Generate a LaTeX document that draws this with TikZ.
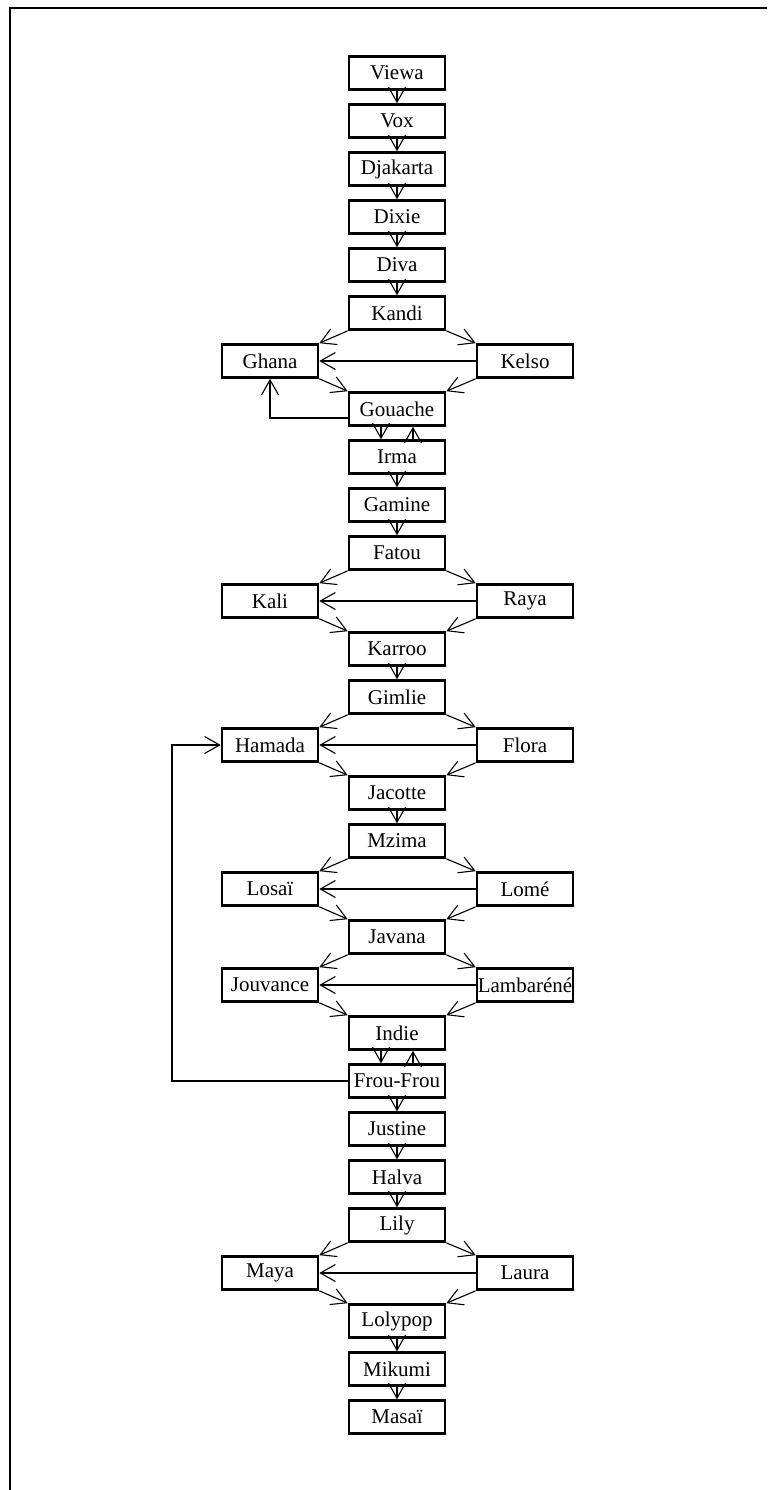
\documentclass[tikz,border=0pt]{standalone}
\usepackage{fontspec}
\setmainfont{Liberation Serif}
\usetikzlibrary{arrows.meta}
\tikzset{
  tag/.style={draw,line width=1.3pt,minimum width=48pt,minimum height=16.5pt,inner sep=0pt,font=\fontsize{10.5}{12}\selectfont},
  lead/.style={->,line width=0.55pt}
}

\begin{document}
\begin{tikzpicture}[x=0.5pt,y=-0.5pt,>={Straight Barb[length=7.5pt,width=8.5pt]}]
\useasboundingbox (0,0) rectangle (767,1490);
% the frame
\draw[line width=1pt] (10,1490) -- (10,8) -- (767,8);
% top of the chain
\node[tag] (viewa) at (397,73) {Viewa};
\node[tag] (vox) at (397,121) {Vox};
\node[tag] (djakarta) at (397,169) {Djakarta};
\node[tag] (dixie) at (397,217) {Dixie};
\node[tag] (diva) at (397,265) {Diva};
\draw[lead] (viewa) -- (vox); \draw[lead] (vox) -- (djakarta); \draw[lead] (djakarta) -- (dixie); \draw[lead] (dixie) -- (diva);
% Kandi, Ghana, Kelso, Gouache
\node[tag] (kandi) at (397,313) {Kandi};
\node[tag] (ghana) at (270,361) {Ghana};
\node[tag] (kelso) at (525,361) {Kelso};
\node[tag] (gouache) at (397,409) {Gouache};
\draw[lead] (diva) -- (kandi);
\draw[lead] (kandi.south west) -- (ghana.north east); \draw[lead] (kandi.south east) -- (kelso.north west);
\draw[lead] (kelso) -- (ghana);
\draw[lead] (ghana.south east) -- (gouache.north west); \draw[lead] (kelso.south west) -- (gouache.north east);
\draw[lead] ([yshift=-4.5pt]gouache.west) -| (ghana.south);
% Irma, Gamine
\node[tag] (irma) at (397,457) {Irma};
\node[tag] (gamine) at (397,505) {Gamine};
\draw[lead] ([xshift=-8pt]gouache.south) -- ([xshift=-8pt]irma.north);
\draw[lead] ([xshift=8pt]irma.north) -- ([xshift=8pt]gouache.south);
\draw[lead] (irma) -- (gamine);
% Fatou, Kali, Raya, Karroo
\node[tag] (fatou) at (397,553) {Fatou};
\node[tag] (kali) at (270,601) {Kali};
\node[tag] (raya) at (525,601) {Raya};
\node[tag] (karroo) at (397,649) {Karroo};
\draw[lead] (gamine) -- (fatou);
\draw[lead] (fatou.south west) -- (kali.north east); \draw[lead] (fatou.south east) -- (raya.north west);
\draw[lead] (raya) -- (kali);
\draw[lead] (kali.south east) -- (karroo.north west); \draw[lead] (raya.south west) -- (karroo.north east);
% Gimlie, Hamada, Flora, Jacotte
\node[tag] (gimlie) at (397,697) {Gimlie};
\node[tag] (hamada) at (270,745) {Hamada};
\node[tag] (flora) at (525,745) {Flora};
\node[tag] (jacotte) at (397,793) {Jacotte};
\draw[lead] (karroo) -- (gimlie);
\draw[lead] (gimlie.south west) -- (hamada.north east); \draw[lead] (gimlie.south east) -- (flora.north west);
\draw[lead] (flora) -- (hamada);
\draw[lead] (hamada.south east) -- (jacotte.north west); \draw[lead] (flora.south west) -- (jacotte.north east);
% Mzima, Losaï, Lomé, Javana
\node[tag] (mzima) at (397,841) {Mzima};
\node[tag] (losai) at (270,889) {Losaï};
\node[tag] (lome) at (525,889) {Lomé};
\node[tag] (javana) at (397,937) {Javana};
\draw[lead] (jacotte) -- (mzima);
\draw[lead] (mzima.south west) -- (losai.north east); \draw[lead] (mzima.south east) -- (lome.north west);
\draw[lead] (lome) -- (losai);
\draw[lead] (losai.south east) -- (javana.north west); \draw[lead] (lome.south west) -- (javana.north east);
% Jouvance, Lambaréné, Indie
\node[tag] (jouvance) at (270,985) {Jouvance};
\node[tag] (lambarene) at (525,985) {Lambaréné};
\node[tag] (indie) at (397,1033) {Indie};
\draw[lead] (javana.south west) -- (jouvance.north east); \draw[lead] (javana.south east) -- (lambarene.north west);
\draw[lead] (lambarene) -- (jouvance);
\draw[lead] (jouvance.south east) -- (indie.north west); \draw[lead] (lambarene.south west) -- (indie.north east);
% Frou-Frou and the way back to Hamada
\node[tag] (froufrou) at (397,1081) {Frou-Frou};
\draw[lead] ([xshift=-8pt]indie.south) -- ([xshift=-8pt]froufrou.north);
\draw[lead] ([xshift=8pt]froufrou.north) -- ([xshift=8pt]indie.south);
\coordinate (turn) at (172,1081);
\draw[lead] (froufrou.west) -- (turn) |- (hamada.west);
% Justine, Halva
\node[tag] (justine) at (397,1129) {Justine};
\node[tag] (halva) at (397,1177) {Halva};
\draw[lead] (froufrou) -- (justine); \draw[lead] (justine) -- (halva);
% Lily, Maya, Laura, Lolypop
\node[tag] (lily) at (397,1225) {Lily};
\node[tag] (maya) at (270,1273) {Maya};
\node[tag] (laura) at (525,1273) {Laura};
\node[tag] (lolypop) at (397,1321) {Lolypop};
\draw[lead] (halva) -- (lily);
\draw[lead] (lily.south west) -- (maya.north east); \draw[lead] (lily.south east) -- (laura.north west);
\draw[lead] (laura) -- (maya);
\draw[lead] (maya.south east) -- (lolypop.north west); \draw[lead] (laura.south west) -- (lolypop.north east);
% end of the chain
\node[tag] (mikumi) at (397,1369) {Mikumi};
\node[tag] (masai) at (397,1417) {Masaï};
\draw[lead] (lolypop) -- (mikumi); \draw[lead] (mikumi) -- (masai);
\end{tikzpicture}
\end{document}
